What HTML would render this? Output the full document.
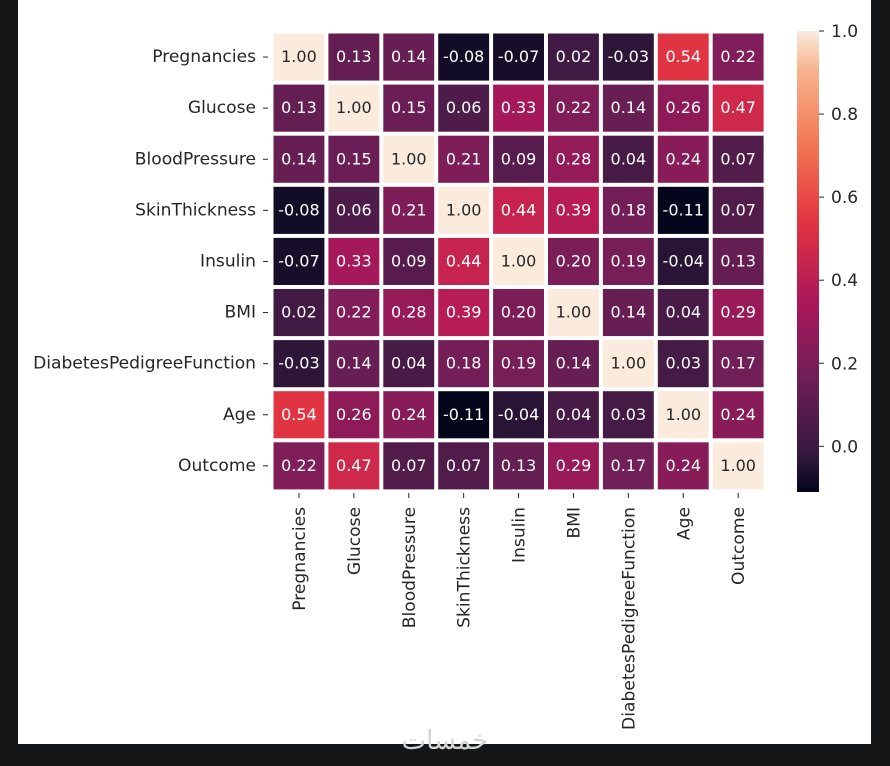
<!DOCTYPE html>
<html><head><meta charset="utf-8">
<style>
html,body{margin:0;padding:0;background:#151617;width:890px;height:766px;overflow:hidden}
svg{display:block}
text{font-family:"DejaVu Sans","Liberation Sans",sans-serif}
</style></head>
<body>
<svg id="chart" width="890" height="766" xmlns="http://www.w3.org/2000/svg">
<rect x="18" y="0" width="853" height="744" fill="#ffffff"/>
<text x="445" y="749" font-size="26" fill="#d4d4d4" text-anchor="middle" font-family="'DejaVu Sans',sans-serif">خمسات</text>
<defs>
<linearGradient id="cbgrad" x1="0" y1="1" x2="0" y2="0">
<stop offset="0" stop-color="#03051a"/>
<stop offset="0.083" stop-color="#35193e"/>
<stop offset="0.25" stop-color="#701f57"/>
<stop offset="0.417" stop-color="#ad1759"/>
<stop offset="0.583" stop-color="#e13342"/>
<stop offset="0.75" stop-color="#f37651"/>
<stop offset="0.917" stop-color="#f6b48f"/>
<stop offset="1" stop-color="#faebdd"/>
</linearGradient>
</defs>
<g id="cells"></g>
<rect x="797" y="31" width="22" height="461" fill="url(#cbgrad)"/>
<g id="cbticks"></g>
</svg>
<script>
const labels = ["Pregnancies","Glucose","BloodPressure","SkinThickness","Insulin","BMI","DiabetesPedigreeFunction","Age","Outcome"];
const row0 = [1.00,0.13,0.14,-0.08,-0.07,0.02,-0.03,0.54,0.22];
const row1 = [0.13,1.00,0.15,0.06,0.33,0.22,0.14,0.26,0.47];
const row2 = [0.14,0.15,1.00,0.21,0.09,0.28,0.04,0.24,0.07];
const row3 = [-0.08,0.06,0.21,1.00,0.44,0.39,0.18,-0.11,0.07];
const row4 = [-0.07,0.33,0.09,0.44,1.00,0.20,0.19,-0.04,0.13];
const row5 = [0.02,0.22,0.28,0.39,0.20,1.00,0.14,0.04,0.29];
const row6 = [-0.03,0.14,0.04,0.18,0.19,0.14,1.00,0.03,0.17];
const row7 = [0.54,0.26,0.24,-0.11,-0.04,0.04,0.03,1.00,0.24];
const row8 = [0.22,0.47,0.07,0.07,0.13,0.29,0.17,0.24,1.00];
const matrix = [row0,row1,row2,row3,row4,row5,row6,row7,row8];
const cbTicks = [0.0,0.2,0.4,0.6,0.8,1.0];
const vmin = -0.11, vmax = 1.0;

const NS = "http://www.w3.org/2000/svg";
const X0 = 271.5, CW = 54.9, Y0 = 31.5, CH = 51.1, GAP = 4;
const FS = 17.1, VFS = 16;
const xPos = i => X0 + i*CW;
const yPos = j => Y0 + j*CH;
const cbY = v => 492 - (v - vmin)/(vmax - vmin)*461;

const stops = [[0,[3,5,26]],[0.083,[53,25,62]],[0.25,[112,31,87]],[0.417,[173,23,89]],[0.583,[225,51,66]],[0.75,[243,118,81]],[0.917,[246,180,143]],[1,[250,235,221]]];
function cmap(v){
  let t = Math.max(0,Math.min(1,(v - vmin)/(vmax - vmin)));
  for(let k=1;k<stops.length;k++){
    if(t<=stops[k][0]){
      const a=stops[k-1],b=stops[k],f=(t-a[0])/(b[0]-a[0]);
      return a[1].map((x,i)=>Math.round(x+(b[1][i]-x)*f));
    }
  }
  return stops[stops.length-1][1];
}
function mk(tag,attrs,parent){const e=document.createElementNS(NS,tag);for(const k in attrs)e.setAttribute(k,attrs[k]);parent.appendChild(e);return e;}

const g = document.getElementById("cells");
matrix.forEach((row,j)=>{
  row.forEach((v,i)=>{
    const c = cmap(v);
    const r = mk("rect",{x:xPos(i)+GAP/2,y:yPos(j)+GAP/2,width:CW-GAP,height:CH-GAP,fill:`rgb(${c[0]},${c[1]},${c[2]})`},g);
    
    
    const lum = 0.299*c[0]+0.587*c[1]+0.114*c[2];
    const t = mk("text",{x:xPos(i)+CW/2,y:yPos(j)+CH/2+5,"font-size":VFS,"text-anchor":"middle",fill: lum>160?"#262626":"#ffffff"},g);
    t.textContent = v.toFixed(2);
    
    
  });
});
labels.forEach((l,j)=>{
  const t = mk("text",{x:256,y:yPos(j)+CH/2+5,"font-size":FS,"text-anchor":"end",fill:"#262626"},g);
  t.textContent = l;
  
  
  const tk = mk("line",{x1:263,x2:268,y1:yPos(j)+CH/2,y2:yPos(j)+CH/2,stroke:"#262626","stroke-width":1},g);
  
  
});
labels.forEach((l,i)=>{
  const cx = xPos(i)+CW/2;
  const t = mk("text",{x:0,y:0,"font-size":FS,"text-anchor":"end",fill:"#262626",transform:`translate(${cx+6},${507}) rotate(-90)`},g);
  t.textContent = l;
  
  
  const tk = mk("line",{x1:cx,x2:cx,y1:493,y2:498,stroke:"#262626","stroke-width":1},g);
  
  
});
const cb = document.getElementById("cbticks");
cbTicks.forEach(v=>{
  const y = cbY(v);
  const tk = mk("line",{x1:819,x2:824,y1:y,y2:y,stroke:"#262626","stroke-width":1},cb);
  
  
  const t = mk("text",{x:831,y:y+6,"font-size":FS,fill:"#262626"},cb);
  t.textContent = v.toFixed(1);
  
  
});
</script>
</body></html>
